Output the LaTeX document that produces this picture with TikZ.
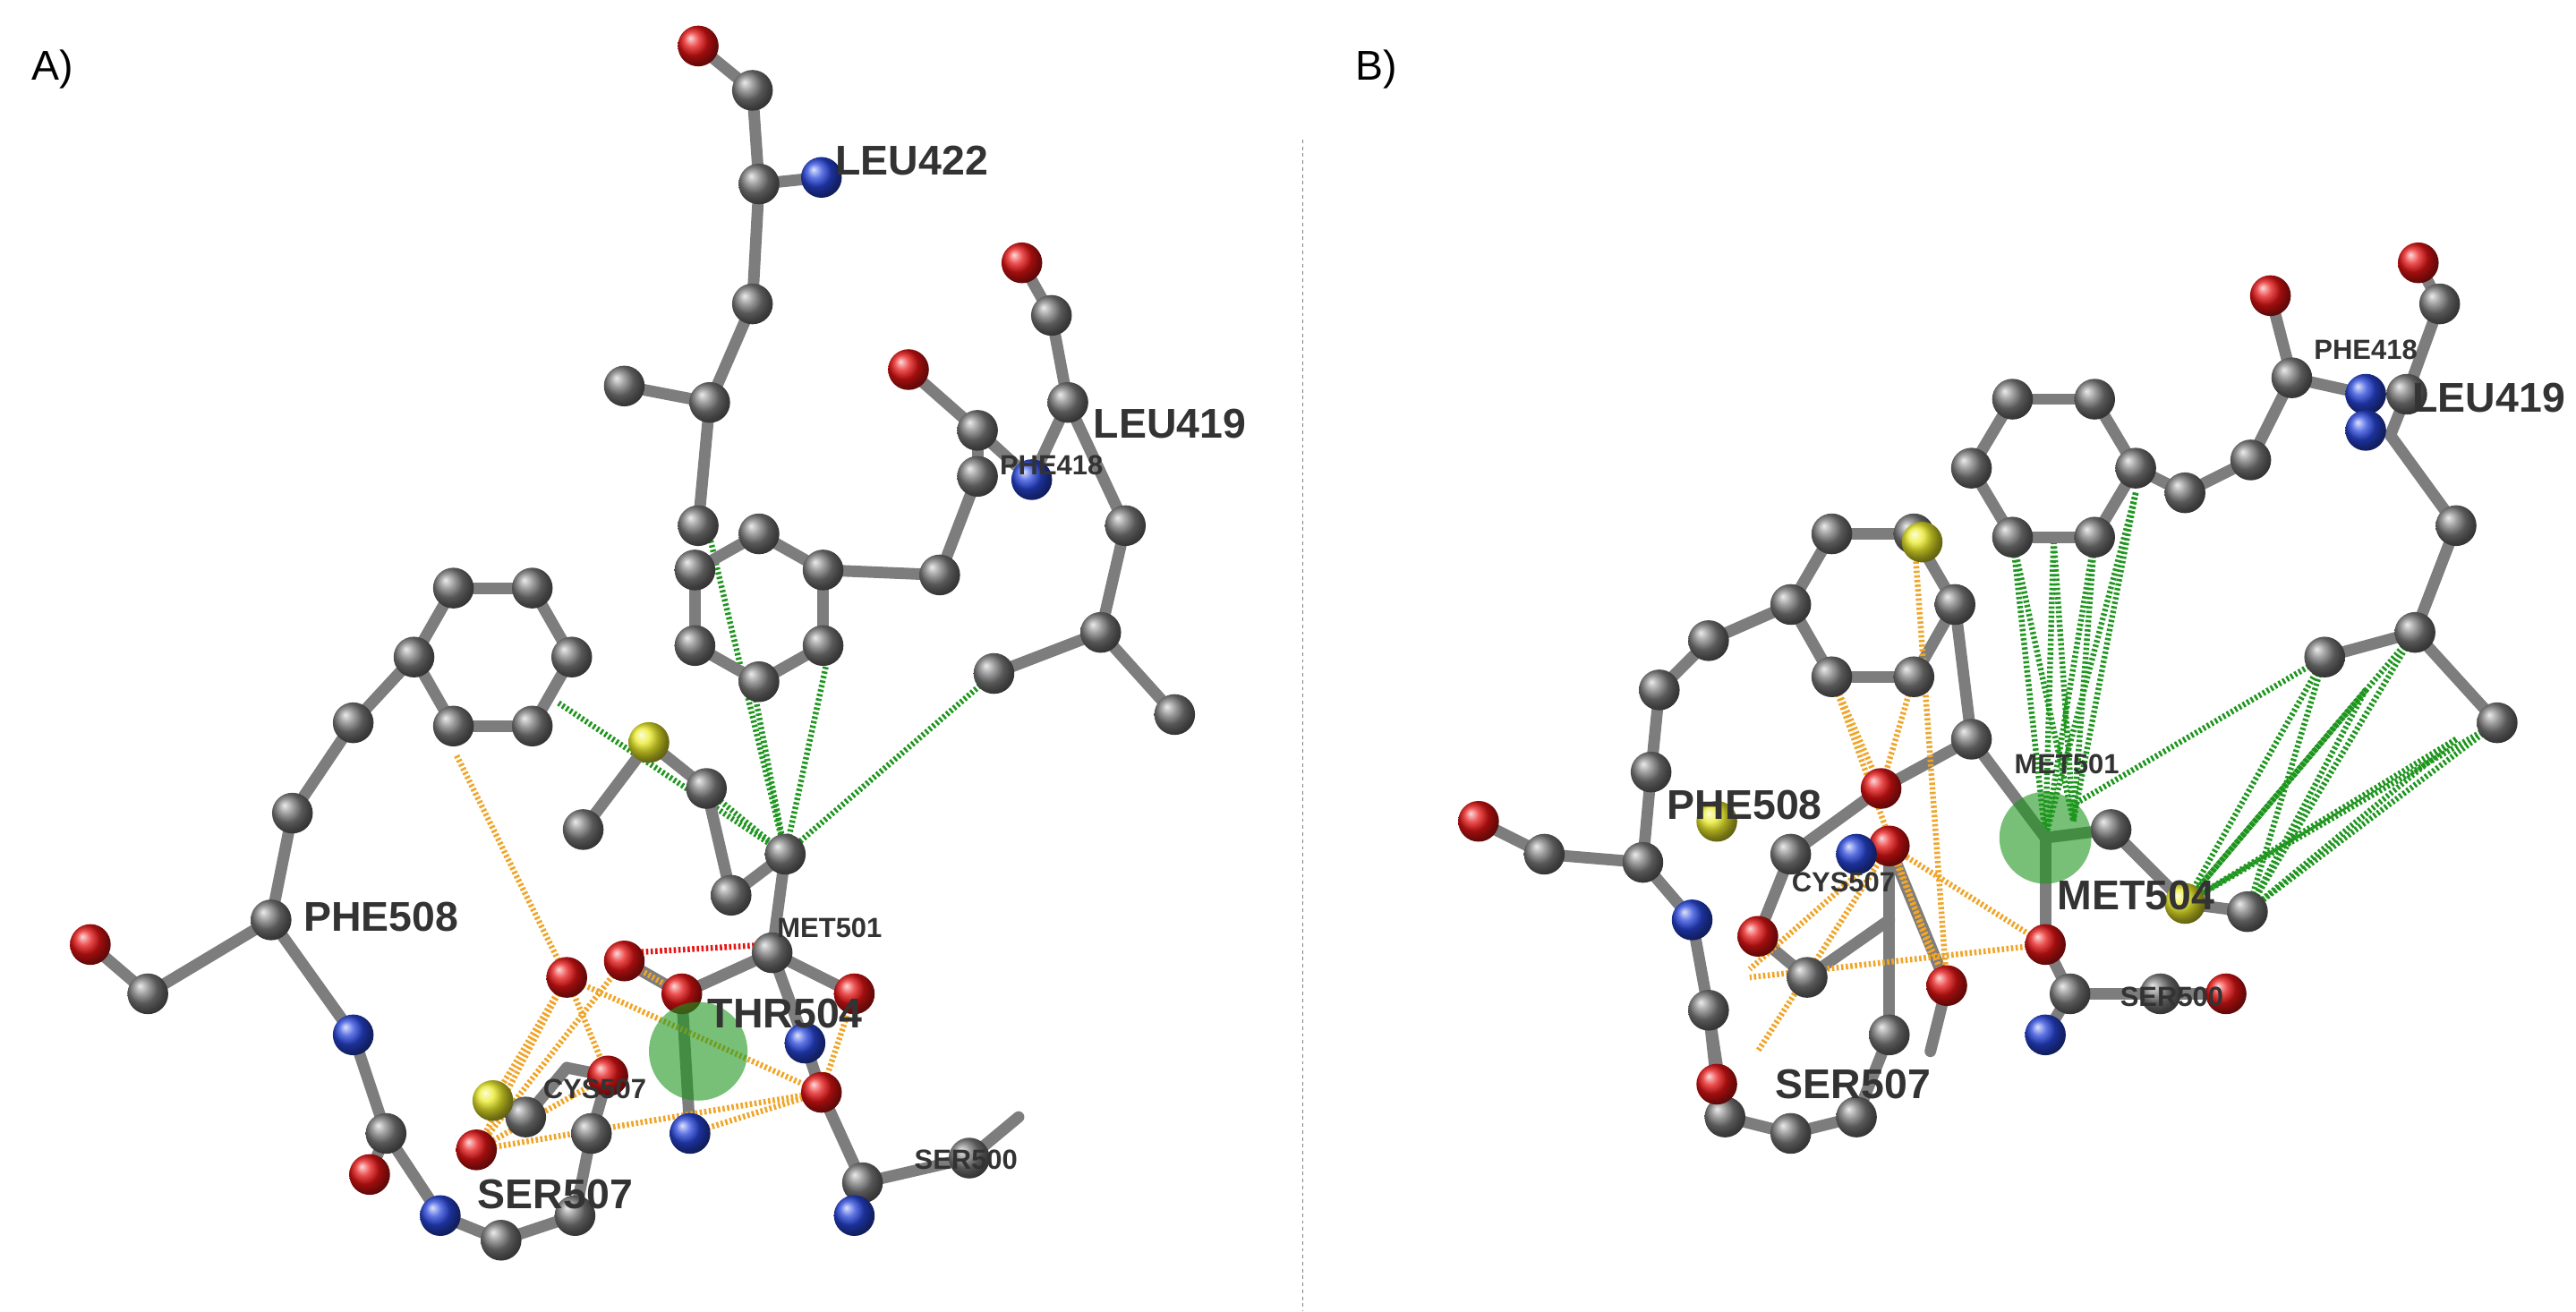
\documentclass[tikz,border=0pt]{standalone}
\usepackage{fontspec}
\setmainfont{Liberation Sans}
\usetikzlibrary{shadings}
\definecolor{cgray}{RGB}{125,125,125}
\definecolor{cred}{RGB}{230,20,20}
\definecolor{cblue}{RGB}{40,70,220}
\definecolor{cyel}{RGB}{235,235,40}
\definecolor{corg}{RGB}{240,165,40}
\definecolor{cgrn}{RGB}{30,150,30}
\tikzset{bond/.style={line width=10pt,cgray,line cap=round},
 orng/.style={line width=5pt,corg,dash pattern=on 2pt off 2pt},
 grn/.style={line width=5pt,cgrn,dash pattern=on 2pt off 2pt},
 rdd/.style={line width=5pt,cred,dash pattern=on 2pt off 2pt},
 big/.style={font=\bfseries\fontsize{36}{36}\selectfont,text=black!80},
 sml/.style={font=\bfseries\fontsize{24}{24}\selectfont,text=black!80}}
\newcommand\At[3]{\shade[ball color=#3] (#1,#2) circle[radius=0.62cm];}
\newcommand\Bd[1]{\foreach \a/\b/\c/\d in {#1}{\draw[bond] (\a,\b)--(\c,\d);}}
\begin{document}
\begin{tikzpicture}[x=0.05cm,y=-0.05cm]
\fill[white] (0,0) rectangle (1568,798);
\draw[gray,dashed,line width=1pt] (793,85)--(793,798);
\node[font=\fontsize{36}{36}\selectfont] at (32,42) {A)};
\node[font=\fontsize{36}{36}\selectfont] at (838,42) {B)};
% ---------- Panel A ----------
\draw[grn] (340,428)--(478,520); \draw[grn] (428,310)--(478,520); \draw[grn] (505,395)--(478,520);
\draw[grn] (605,410)--(478,520); \draw[grn] (458,415)--(478,520); \draw[grn] (395,452)--(478,520);
\Bd{425/28/458/55, 458/55/462/112, 462/112/500/108, 462/112/458/185, 458/185/432/245, 432/245/380/235, 432/245/425/320,
462/325/501/347, 501/347/501/393, 501/393/462/415, 462/415/423/393, 423/393/423/347, 423/347/462/325,
501/347/572/350, 572/350/595/290, 553/225/595/262, 595/262/628/292, 595/262/595/290,
622/160/640/192, 640/192/650/245, 650/245/628/292, 650/245/685/320, 685/320/670/385, 670/385/715/435, 670/385/605/410,
276/358/324/358, 324/358/348/400, 348/400/324/442, 324/442/276/442, 276/442/252/400, 252/400/276/358,
252/400/215/440, 215/440/178/495, 178/495/165/560, 165/560/90/605, 90/605/55/575, 165/560/215/630, 215/630/235/690, 235/690/225/715,
235/690/268/740, 268/740/305/755, 305/755/350/740, 350/740/360/690, 360/690/370/655,
395/452/355/505, 395/452/430/480, 430/480/445/545, 445/545/478/520, 478/520/470/580, 470/580/415/605, 415/605/380/585, 470/580/520/605,
415/605/420/690, 470/580/490/635, 490/635/500/665, 500/665/525/720, 525/720/520/740, 525/720/590/705, 590/705/620/680,
300/670/320/680, 320/680/345/650, 345/650/370/655}
\foreach \a/\b/\c/\d in {278/460/345/595, 345/595/290/700, 345/595/370/655, 345/595/300/670, 380/585/415/605, 345/595/500/665, 290/700/500/665, 420/690/500/665, 500/665/520/605, 370/655/290/700, 380/585/290/700}{\draw[orng] (\a,\b)--(\c,\d);}
\draw[rdd] (382,580)--(470,575);
\foreach \x/\y in {458/55,462/112,458/185,432/245,380/235,425/320,462/325,501/347,501/393,462/415,423/393,423/347,572/350,595/262,595/290,640/192,650/245,685/320,670/385,715/435,605/410,
276/358,324/358,348/400,324/442,276/442,252/400,215/440,178/495,165/560,90/605,235/690,305/755,350/740,360/690,355/505,430/480,445/545,478/520,470/580,525/720,590/705,320/680}{\At{\x}{\y}{cgray}}
\foreach \x/\y in {425/28,553/225,622/160,55/575,225/715,345/595,380/585,370/655,415/605,520/605,500/665,290/700}{\At{\x}{\y}{cred}}
\foreach \x/\y in {500/108,628/292,215/630,268/740,420/690,490/635,520/740}{\At{\x}{\y}{cblue}}
\foreach \x/\y in {395/452,300/670}{\At{\x}{\y}{cyel}}
\fill[cgrn,opacity=0.6] (425,640) circle[radius=1.5cm];
\node[big] at (555,98) {LEU422};
\node[sml] at (640,283) {PHE418};
\node[big] at (712,258) {LEU419};
\node[big] at (232,558) {PHE508};
\node[sml] at (505,565) {MET501};
\node[big] at (478,617) {THR504};
\node[sml] at (362,663) {CYS507};
\node[big] at (338,727) {SER507};
\node[sml] at (588,706) {SER500};
% ---------- Panel B ----------
\foreach \a/\b in {1225/327,1275/327,1250/327,1300/300}{\draw[grn] (\a,\b)--(1245,510); \draw[grn] (\a,\b)--(1262,500);}
\foreach \a/\b in {1415/400,1470/385,1440/420,1520/440,1495/450}{\draw[grn] (\a,\b)--(1330,550); \draw[grn] (\a,\b)--(1368,555);}
\draw[grn] (1415,400)--(1262,490);
\Bd{1225/243/1275/243, 1275/243/1300/285, 1300/285/1275/327, 1275/327/1225/327, 1225/327/1200/285, 1200/285/1225/243,
1300/285/1330/300, 1330/300/1370/280, 1370/280/1395/230, 1382/180/1395/230, 1395/230/1440/240, 1440/240/1440/262,
1472/160/1485/185, 1485/185/1465/240, 1465/240/1455/265, 1455/265/1495/320, 1495/320/1470/385, 1470/385/1520/440, 1470/385/1415/400,
1115/325/1165/325, 1165/325/1190/368, 1190/368/1165/412, 1165/412/1115/412, 1115/412/1090/368, 1090/368/1115/325,
1090/368/1040/390, 1040/390/1010/420, 1010/420/1005/470, 1005/470/1000/525, 1000/525/940/520, 940/520/900/500, 1000/525/1030/560, 1030/560/1040/615,
1040/615/1045/660, 1040/615/1050/680, 1050/680/1090/690, 1090/690/1130/680, 1130/680/1150/630, 1150/630/1150/515,
1190/368/1200/450, 1200/450/1145/480, 1145/480/1090/520, 1200/450/1245/510, 1245/510/1285/505, 1285/505/1330/550, 1330/550/1368/555,
1245/510/1245/575, 1245/575/1260/605, 1260/605/1245/630, 1260/605/1315/605, 1315/605/1355/605, 1150/515/1185/600, 1185/600/1175/640,
1090/520/1070/570, 1070/570/1100/595, 1100/595/1150/560}
\foreach \a/\b/\c/\d in {1115/412/1145/480, 1165/412/1145/480, 1150/515/1065/590, 1245/575/1065/595, 1185/600/1150/515, 1150/515/1070/640, 1165/325/1185/600, 1245/575/1150/515, 1115/412/1175/580}{\draw[orng] (\a,\b)--(\c,\d);}
\foreach \x/\y in {1225/243,1275/243,1300/285,1275/327,1225/327,1200/285,1330/300,1370/280,1395/230,1485/185,1465/240,1495/320,1470/385,1520/440,1415/400,
1115/325,1165/325,1190/368,1165/412,1115/412,1090/368,1040/390,1010/420,1005/470,1000/525,940/520,1040/615,1050/680,1090/690,1130/680,1150/630,
1200/450,1285/505,1368/555,1260/605,1315/605,1090/520,1100/595}{\At{\x}{\y}{cgray}}
\foreach \x/\y in {1382/180,1472/160,900/500,1045/660,1145/480,1150/515,1185/600,1245/575,1355/605,1070/570}{\At{\x}{\y}{cred}}
\foreach \x/\y in {1440/240,1440/262,1030/560,1245/630,1130/520}{\At{\x}{\y}{cblue}}
\foreach \x/\y in {1330/550,1045/500,1170/330}{\At{\x}{\y}{cyel}}
\fill[cgrn,opacity=0.6] (1245,510) circle[radius=1.4cm];
\node[sml] at (1440,213) {PHE418};
\node[big] at (1515,242) {LEU419};
\node[sml] at (1258,465) {MET501};
\node[big] at (1062,490) {PHE508};
\node[sml] at (1122,537) {CYS507};
\node[big] at (1300,545) {MET504};
\node[big] at (1128,660) {SER507};
\node[sml] at (1322,607) {SER500};
\end{tikzpicture}
\end{document}
